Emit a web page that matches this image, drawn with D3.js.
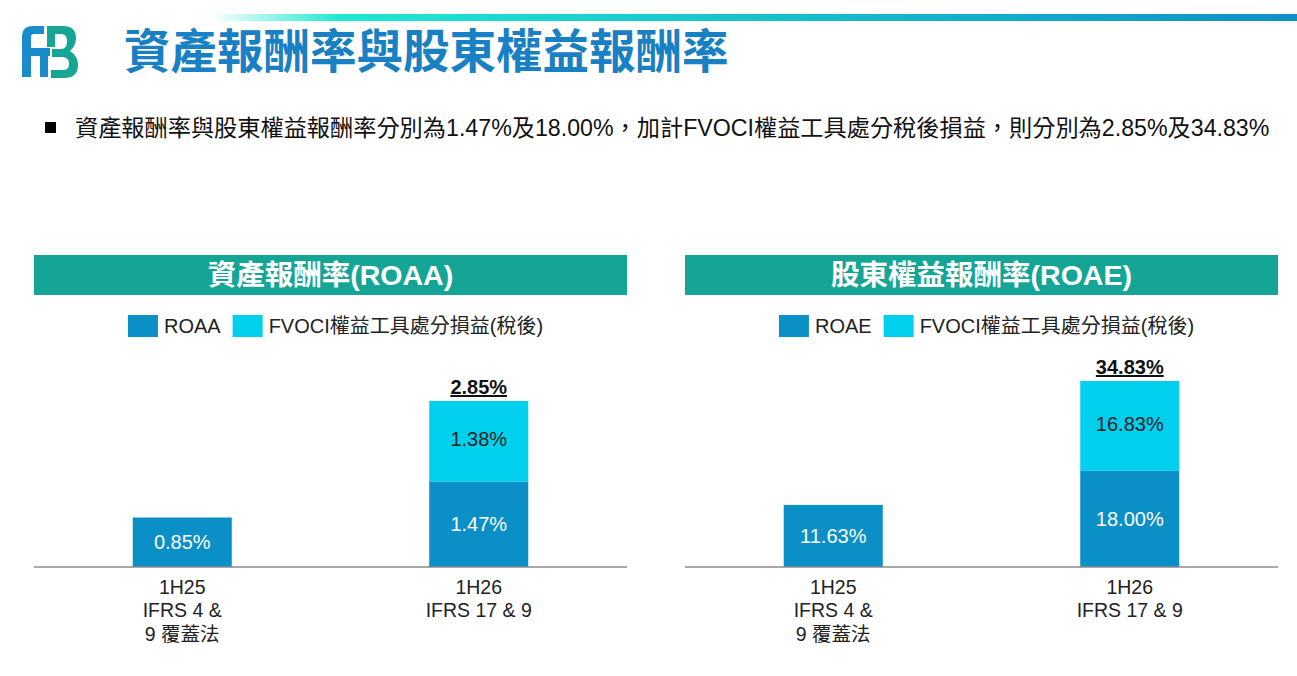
<!DOCTYPE html>
<html>
  <head>
    <meta charset="utf-8">
    <title>資產報酬率與股東權益報酬率</title>
    <script src="https://d3js.org/d3.v7.min.js"></script>
    <style>
      body { margin: 0; background: #fff; }
      text { font-family: "Liberation Sans", Arial, "Noto Sans CJK TC", sans-serif; }
    </style>
  </head>
  <body>
    <script>
      var width = 1297, height = 676;

      // data
      var categories = ["1H25", "1H26"];
      var categoryLines = [["1H25", "IFRS 4 &", "9 覆蓋法"], ["1H26", "IFRS 17 & 9"]];
      var roaa = [0.85, 1.47];
      var roaaFvoci = [0, 1.38];
      var roae = [11.63, 18.00];
      var roaeFvoci = [0, 16.83];
      var fvociLabel = "FVOCI權益工具處分損益(稅後)";

      var colors = { base: "#0a8fc7", fvoci: "#00d0ee", header: "#15a596", title: "#1a80c4" };

      var svg = d3.select("body").append("svg")
        .attr("width", width)
        .attr("height", height);

      // top gradient strip
      var defs = svg.append("defs");
      var grad = defs.append("linearGradient").attr("id", "strip");
      grad.append("stop").attr("offset", "0%").attr("stop-color", "#ffffff");
      grad.append("stop").attr("offset", "12%").attr("stop-color", "#1ee8d2");
      grad.append("stop").attr("offset", "100%").attr("stop-color", "#0e90c6");
      svg.append("rect").attr("x", 210).attr("y", 14).attr("width", width - 210).attr("height", 7)
        .attr("fill", "url(#strip)");

      // logo (rough)
      svg.append("path")
        .attr("d", "M22,77 L22,37 Q22,26 33,26 L44,26 L44,34 L34,34 Q31,34 31,37 L31,48 L50,48 L50,56 L48,56 L48,77 L40,77 L40,56 L31,56 L31,77 Z")
        .attr("fill", "#1b8ccb");
      svg.append("path")
        .attr("d", "M47,26 L63,26 Q76,26 76,38 Q76,46 70,51 Q78,56 78,65 Q78,78 64,78 L51,78 L51,70 L63,70 Q69,70 69,64 Q69,57 62,57 L52,57 L52,49 L61,49 Q67,49 67,41 Q67,34 61,34 L55,34 L55,47 L47,47 Z")
        .attr("fill", "#17a596");

      svg.append("text")
        .attr("x", 124).attr("y", 68)
        .attr("font-size", 46.5).attr("font-weight", "bold")
        .attr("fill", colors.title)
        .text("資產報酬率與股東權益報酬率");

      // bullet line
      svg.append("rect").attr("x", 45).attr("y", 122).attr("width", 11).attr("height", 11).attr("fill", "#000");
      svg.append("text")
        .attr("x", 75).attr("y", 128).attr("dy", "0.35em")
        .attr("font-size", 23.2).attr("fill", "#111")
        .text("資產報酬率與股東權益報酬率分別為" + roaa[1].toFixed(2) + "%及" + roae[1].toFixed(2) +
              "%，加計FVOCI權益工具處分稅後損益，則分別為" + (roaa[1] + roaaFvoci[1]).toFixed(2) + "%及" +
              (roae[1] + roaeFvoci[1]).toFixed(2) + "%");

      function drawPanel(opts) {
        var x0 = opts.x0, w = 593, axisY = 567;
        var g = svg.append("g");

        g.append("rect").attr("x", x0).attr("y", 255).attr("width", w).attr("height", 40)
          .attr("fill", colors.header);
        g.append("text")
          .attr("x", x0 + w / 2).attr("y", 275).attr("dy", "0.35em")
          .attr("text-anchor", "middle").attr("font-size", 28.5).attr("font-weight", "bold")
          .attr("fill", "#fff")
          .text(opts.title);

        // legend
        var lg = g.append("g");
        var items = [{ label: opts.name, color: colors.base }, { label: fvociLabel, color: colors.fvoci }];
        var lx = 0;
        items.forEach(function(it) {
          lg.append("rect").attr("x", lx).attr("y", -11).attr("width", 30).attr("height", 22).attr("fill", it.color);
          var t = lg.append("text").attr("x", lx + 36).attr("y", 0).attr("dy", "0.35em")
            .attr("font-size", 20).attr("fill", "#222").text(it.label);
          lx += 36 + t.node().getComputedTextLength() + 12;
        });
        lg.attr("transform", "translate(" + (x0 + w / 2 - (lx - 12) / 2 + 5) + ",326)");

        var totals = opts.base.map(function(v, i) { return v + opts.fvoci[i]; });
        var x = d3.scaleBand().domain(categories).range([x0, x0 + w]).paddingInner(0.666).paddingOuter(0.333);
        var y = d3.scaleLinear().domain([0, d3.max(totals)]).range([axisY, axisY - opts.span]);

        categories.forEach(function(c, i) {
          var bx = x(c), bw = x.bandwidth(), cx = bx + bw / 2;
          g.append("rect").attr("x", bx).attr("y", y(opts.base[i])).attr("width", bw)
            .attr("height", y(0) - y(opts.base[i])).attr("fill", colors.base);
          g.append("text").attr("x", cx).attr("y", (y(0) + y(opts.base[i])) / 2).attr("dy", "0.35em")
            .attr("text-anchor", "middle").attr("font-size", 20).attr("fill", "#fff")
            .text(opts.base[i].toFixed(2) + "%");
          if (opts.fvoci[i] > 0) {
            g.append("rect").attr("x", bx).attr("y", y(totals[i])).attr("width", bw)
              .attr("height", y(opts.base[i]) - y(totals[i])).attr("fill", colors.fvoci);
            g.append("text").attr("x", cx).attr("y", (y(opts.base[i]) + y(totals[i])) / 2 - 2).attr("dy", "0.35em")
              .attr("text-anchor", "middle").attr("font-size", 20).attr("fill", "#222")
              .text(opts.fvoci[i].toFixed(2) + "%");
            g.append("text").attr("x", cx).attr("y", y(totals[i]) - 14).attr("dy", "0.35em")
              .attr("text-anchor", "middle").attr("font-size", 20).attr("font-weight", "bold")
              .attr("fill", "#111").style("text-decoration", "underline")
              .text(totals[i].toFixed(2) + "%");
          }
          var lt = g.append("text").attr("text-anchor", "middle").attr("font-size", 19.5).attr("fill", "#222");
          categoryLines[i].forEach(function(s, k) {
            lt.append("tspan").attr("x", cx).attr("y", 587 + k * 23.5).attr("dy", "0.35em").text(s);
          });
        });

        g.append("line").attr("x1", x0).attr("x2", x0 + w).attr("y1", axisY).attr("y2", axisY)
          .attr("stroke", "#8a8a8a").attr("stroke-width", 1.5);
      }

      drawPanel({ x0: 34, title: "資產報酬率(ROAA)", name: "ROAA", base: roaa, fvoci: roaaFvoci, span: 166 });
      drawPanel({ x0: 685, title: "股東權益報酬率(ROAE)", name: "ROAE", base: roae, fvoci: roaeFvoci, span: 186 });
    </script>
  </body>
</html>
